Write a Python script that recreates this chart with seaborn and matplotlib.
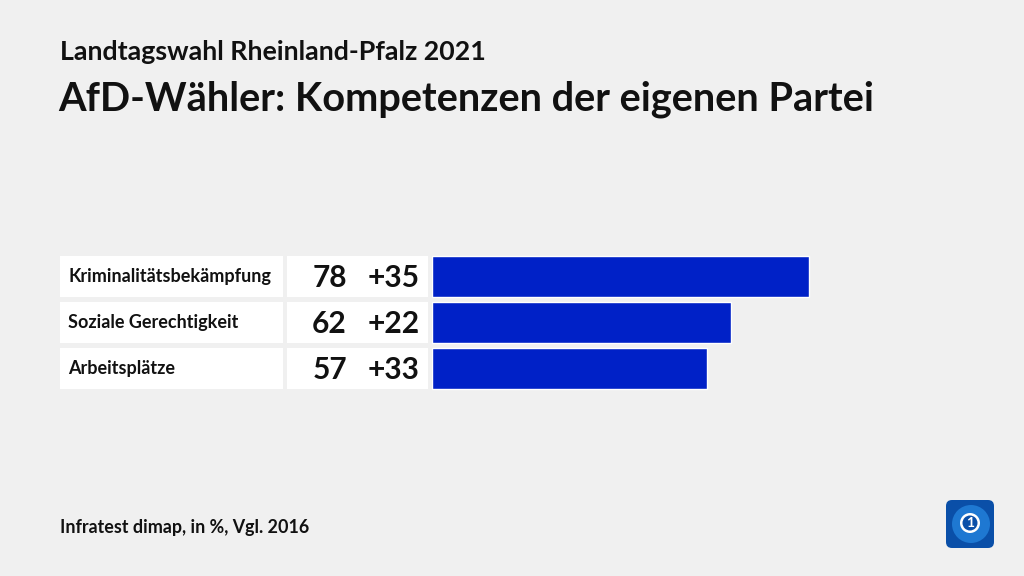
import matplotlib
matplotlib.use("Agg")
import matplotlib.pyplot as plt
import seaborn as sns
import pandas as pd
from matplotlib.patches import Rectangle, FancyBboxPatch, Circle

# data
themen = ["Kriminalitätsbekämpfung", "Soziale Gerechtigkeit", "Arbeitsplätze"]
werte = [78, 62, 57]
diff = ["+35", "+22", "+33"]

df = pd.DataFrame({"thema": themen, "wert": werte})

sns.set_style("white")
plt.rcParams["font.family"] = ["Lato", "DejaVu Sans"]

bg = "#f0f0f0"
blue = "#0021c7"

fig = plt.figure(figsize=(10.24, 5.76), dpi=100, facecolor=bg)
ax = fig.add_axes([432 / 1024, 1 - 391.5 / 576, 483 / 1024, 138 / 576])
ax.set_facecolor("none")

sns.barplot(data=df, x="wert", y="thema", color=blue, width=0.89,
            saturation=1, ax=ax, orient="h")
ax.set_xlim(0, 100)
ax.set_ylim(2.5, -0.5)
ax.axis("off")

for i, (t, v, d) in enumerate(zip(themen, werte, diff)):
    ax.add_patch(Rectangle((-77.0, i - 0.445), 46.2, 0.89, facecolor="white",
                           edgecolor="none", clip_on=False, zorder=0))
    ax.add_patch(Rectangle((-30.0, i - 0.445), 29.2, 0.89, facecolor="white",
                           edgecolor="none", clip_on=False, zorder=0))
    ax.text(-75.3, i, t, ha="left", va="center", fontsize=13,
            fontweight="bold", color="#111111", clip_on=False)
    ax.text(-17.6, i + 0.03, str(v), ha="right", va="center", fontsize=21.5,
            fontweight="bold", color="#111111", clip_on=False)
    ax.text(-2.6, i + 0.03, d, ha="right", va="center", fontsize=21.5,
            fontweight="bold", color="#111111", clip_on=False)

fig.text(60 / 1024, 1 - 52 / 576, "Landtagswahl Rheinland-Pfalz 2021",
         fontsize=19.3, fontweight="bold", va="center", color="#111111")
fig.text(58 / 1024, 1 - 99 / 576, "AfD-Wähler: Kompetenzen der eigenen Partei",
         fontsize=28.6, fontweight="bold", va="center", color="#111111")
fig.text(60 / 1024, 1 - 527 / 576, "Infratest dimap, in %, Vgl. 2016",
         fontsize=12.9, fontweight="bold", va="center", color="#111111")

# logo
lax = fig.add_axes([945 / 1024, 1 - 549 / 576, 50 / 1024, 50 / 576])
lax.set_xlim(0, 1)
lax.set_ylim(0, 1)
lax.axis("off")
lax.add_patch(FancyBboxPatch((0.02, 0.02), 0.96, 0.96,
                             boxstyle="round,pad=0,rounding_size=0.12",
                             facecolor="#0a4fa8", edgecolor="none"))
lax.add_patch(Circle((0.52, 0.5), 0.38, facecolor="#1e78d2", edgecolor="none"))
lax.add_patch(Circle((0.5, 0.52), 0.2, facecolor="white", edgecolor="none"))
lax.add_patch(Circle((0.5, 0.52), 0.15, facecolor="#0a4fa8", edgecolor="none"))
lax.text(0.5, 0.52, "1", ha="center", va="center", fontsize=10,
         fontweight="bold", color="white")

fig.savefig("out.png", dpi=100, facecolor=bg)
